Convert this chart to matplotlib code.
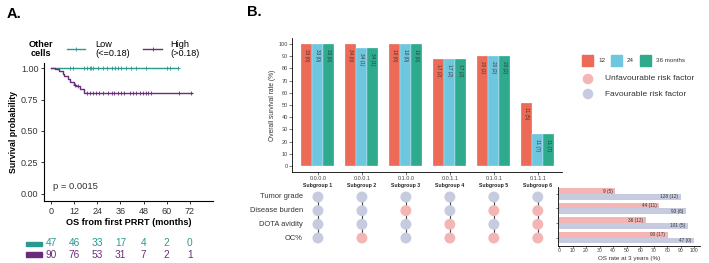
import matplotlib
matplotlib.use("Agg")
import matplotlib.pyplot as plt
from matplotlib.lines import Line2D
from matplotlib.patches import Rectangle
import numpy as np

plt.rcParams['font.family'] = ['Liberation Sans', 'DejaVu Sans']

# ---- Panel A data (Kaplan-Meier) ----
low_times = [0, 66]
low_surv = [1.0, 1.0]
low_censor = [10, 11.5, 17, 18.5, 20, 21, 22, 24.5, 27, 29, 31.5, 33, 35, 36.5,
              39, 41.5, 44, 49.5, 60, 61.5, 66]
high_times = [0, 2, 4, 6, 7, 9, 10, 12, 13, 15, 17, 73]
high_surv = [1.0, 0.989, 0.978, 0.956, 0.933, 0.911, 0.889, 0.867, 0.856, 0.833, 0.80, 0.80]
high_censor = [12.5, 14, 18.5, 20, 22, 23.5, 25, 27, 29.5, 31.5, 32.5, 35, 36.5,
               38, 41, 42.5, 44, 46, 47.5, 49.5, 50.5, 52, 66.5, 72.5]
risk_times = [0, 12, 24, 36, 48, 60, 72]
risk_low = [47, 46, 33, 17, 4, 2, 0]
risk_high = [90, 76, 53, 31, 7, 2, 1]

# ---- Panel B data ----
subgroups = ['Subgroup 1', 'Subgroup 2', 'Subgroup 3', 'Subgroup 4', 'Subgroup 5', 'Subgroup 6']
codes = ['0.0.0.0', '0.0.0.1', '0.1.0.0', '0.0.1.1', '0.1.0.1', '0.1.1.1']
os12 = [100, 100, 100, 88, 90, 52]
os24 = [100, 97, 100, 88, 90, 26]
os36 = [100, 97, 100, 88, 90, 26]
lab12 = ['33 (0)', '34 (0)', '10 (0)', '17 (2)', '20 (2)', '11 (5)']
lab24 = ['33 (0)', '34 (1)', '10 (0)', '17 (2)', '20 (2)', '11 (7)']
lab36 = ['33 (0)', '34 (1)', '10 (0)', '17 (2)', '20 (2)', '11 (7)']
factors = ['Tumor grade', 'Disease burden', 'DOTA avidity', 'OC%']
os3_unfav = [41.5, 74, 64.5, 80.5]
os3_fav = [90, 94, 95, 99.5]
lab_unfav = ['9 (5)', '44 (11)', '36 (12)', '90 (17)']
lab_fav = ['128 (12)', '93 (6)', '101 (5)', '47 (0)']

W, H = 709, 263
fig = plt.figure(figsize=(W / 100, H / 100), dpi=100)


def px_axes(l, t, r, b):
    return fig.add_axes([l / W, 1 - b / H, (r - l) / W, (b - t) / H])


def fx(x):
    return x / W


def fy(y):
    return 1 - y / H


teal = '#2a9a91'
purple = '#6a2c7a'
c12, c24, c36 = '#ec6a56', '#6fc6df', '#2eab8d'
pink, lav = '#f4b5b5', '#c6cbe0'

# ================= Panel A =================
axA = px_axes(44, 63, 213, 201)
axA.step(low_times, low_surv, where='post', color=teal, lw=1.0)
axA.step(high_times, high_surv, where='post', color=purple, lw=1.0)
axA.plot(low_censor, np.interp(low_censor, low_times, low_surv), ls='none',
         marker='+', ms=3.5, mew=0.6, color=teal)
hs = [high_surv[np.searchsorted(high_times, t, side='right') - 1] for t in high_censor]
axA.plot(high_censor, hs, ls='none', marker='+', ms=3.5, mew=0.6, color=purple)
axA.set_xlim(-3.6, 84)
axA.set_ylim(-0.056, 1.04)
axA.set_xticks(risk_times)
axA.set_yticks([0, 0.25, 0.5, 0.75, 1.0])
axA.set_yticklabels(['0.00', '0.25', '0.50', '0.75', '1.00'])
for s in ['top', 'right']:
    axA.spines[s].set_visible(False)
for s in ['left', 'bottom']:
    axA.spines[s].set_linewidth(0.8)
axA.tick_params(labelsize=6.5, length=2.5, width=0.7, pad=1.5, colors='#333333')
axA.set_ylabel('Survival probability', fontsize=6.3, fontweight='bold', labelpad=2)
axA.set_xlabel('OS from first PRRT (months)', fontsize=6.6, fontweight='bold', labelpad=2)
axA.text(1, 0.04, 'p = 0.0015', fontsize=6.8, color='#333333')

fig.text(fx(7), fy(14), 'A.', fontsize=10.5, fontweight='bold', va='center')

# legend A
fig.text(fx(41), fy(49), 'Other\ncells', fontsize=6.6, fontweight='bold', ha='center',
         va='center', linespacing=1.0)
fig.add_artist(Line2D([fx(67), fx(85)], [fy(49), fy(49)], color=teal, lw=1.0))
fig.add_artist(Line2D([fx(76)], [fy(49)], color=teal, marker='+', ms=3.5, mew=0.6))
fig.text(fx(95), fy(49), 'Low\n(<=0.18)', fontsize=6.6, ha='left', va='center', linespacing=1.0)
fig.add_artist(Line2D([fx(143), fx(162)], [fy(49), fy(49)], color=purple, lw=1.0))
fig.add_artist(Line2D([fx(152.5)], [fy(49)], color=purple, marker='+', ms=3.5, mew=0.6))
fig.text(fx(170), fy(49), 'High\n(>0.18)', fontsize=6.6, ha='left', va='center', linespacing=1.0)

# risk table
axR = px_axes(44, 238, 213, 260)
axR.set_xlim(-3.6, 84)
axR.set_ylim(0, 2)
axR.axis('off')
for t, a, b in zip(risk_times, risk_low, risk_high):
    axR.text(t, 1.5, str(a), color=teal, fontsize=7.3, ha='center', va='center')
    axR.text(t, 0.5, str(b), color=purple, fontsize=7.3, ha='center', va='center')
fig.add_artist(Rectangle((fx(26), fy(246)), fx(16), 4.5 / H, color=teal))
fig.add_artist(Rectangle((fx(26), fy(256.5)), fx(16), 4.5 / H, color=purple))

# ================= Panel B =================
fig.text(fx(247), fy(12), 'B.', fontsize=10.5, fontweight='bold', va='center')

axB = px_axes(292, 38, 562, 172)
x = np.arange(len(subgroups))
bw = 0.25
for off, vals, labs, col in [(-bw, os12, lab12, c12), (0, os24, lab24, c24), (bw, os36, lab36, c36)]:
    axB.bar(x + off, vals, width=bw, color=col, edgecolor='white', linewidth=0.2)
    for xi, v, lb in zip(x + off, vals, labs):
        axB.text(xi, v - 4, lb, rotation=270, fontsize=3.4, ha='center', va='top', color='#333333')
axB.set_xlim(-0.59, 5.55)
axB.set_ylim(-4.9, 104.9)
axB.set_yticks(range(0, 101, 10))
axB.set_xticks(x)
axB.set_xticklabels(codes)
axB.tick_params(labelsize=4.0, length=2, width=0.5, pad=1, colors='#444444')
for s in ['top', 'right']:
    axB.spines[s].set_visible(False)
for s in ['left', 'bottom']:
    axB.spines[s].set_linewidth(0.6)
axB.set_ylabel('Overall survival rate (%)', fontsize=4.8, labelpad=2, color='#333333')
for xi, name in zip(x, subgroups):
    axB.text(xi, -0.098, name, transform=axB.get_xaxis_transform(), fontsize=3.7,
             fontweight='bold', ha='center', va='center', color='#222222')

# legend B
for lx, col, txt in [(582, c12, '12'), (611, c24, '24'), (640, c36, '36 months')]:
    fig.add_artist(Rectangle((fx(lx), fy(66)), fx(11), 11 / H, color=col))
    fig.text(fx(lx + 16), fy(60.5), txt, fontsize=4.5, va='center', color='#333333')
for ly, col, txt in [(79, pink, 'Unfavourable risk factor'), (94, lav, 'Favourable risk factor')]:
    axL = px_axes(582, ly - 7, 594, ly + 7)
    axL.scatter([0], [0], s=58, color=col, edgecolors='none')
    axL.set_xlim(-1, 1)
    axL.set_ylim(-1, 1)
    axL.axis('off')
    fig.text(fx(605), fy(ly), txt, fontsize=6.0, va='center', color='#333333')

# dot matrix
axM = px_axes(292, 189, 562, 246)
axM.set_xlim(-0.59, 5.55)
axM.set_ylim(3.585, -0.585)
axM.axis('off')
rows = np.arange(len(factors))
for xi, code in zip(x, codes):
    flags = [int(c) for c in code.split('.')]
    axM.plot([xi, xi], [0, 3], color='#444444', lw=0.8, zorder=1)
    cols = [pink if f else lav for f in flags]
    axM.scatter([xi] * 4, rows, s=62, color=cols, edgecolors='none', zorder=2)
for r, name in zip(rows, factors):
    axM.text(-0.34, r, name, fontsize=5.4, ha='right', va='center', color='#333333')

# horizontal bars
axH = px_axes(558, 187, 700, 245.5)
hb = 0.39
axH.barh(rows - hb / 2, os3_unfav, height=hb, color=pink)
axH.barh(rows + hb / 2, os3_fav, height=hb, color=lav)
for r, v, lb in zip(rows, os3_unfav, lab_unfav):
    axH.text(v - 2, r - hb / 2, lb, fontsize=3.4, ha='right', va='center', color='#333333')
for r, v, lb in zip(rows, os3_fav, lab_fav):
    axH.text(v - 2, r + hb / 2, lb, fontsize=3.4, ha='right', va='center', color='#333333')
axH.set_xlim(-0.74, 104.2)
axH.set_ylim(3.55, -0.48)
axH.set_xticks(range(0, 101, 10))
axH.set_yticks(rows)
axH.set_yticklabels([])
axH.tick_params(axis='x', labelsize=3.7, length=1.5, width=0.5, pad=0.5, colors='#444444')
axH.tick_params(axis='y', length=1.5, width=0.5, colors='#444444')
for s in ['top', 'right']:
    axH.spines[s].set_visible(False)
for s in ['left', 'bottom']:
    axH.spines[s].set_linewidth(0.6)
fig.text(fx(629), fy(258.8), 'OS rate at 3 years (%)', fontsize=4.5, ha='center',
         va='center', color='#333333')

fig.savefig('out.png', dpi=100)
